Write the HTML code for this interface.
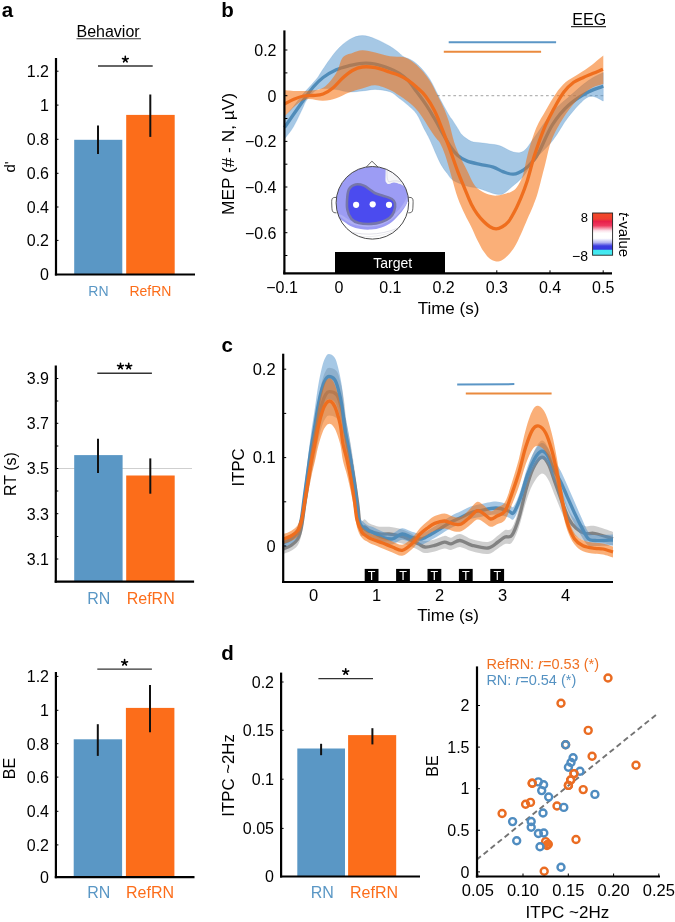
<!DOCTYPE html>
<html><head><meta charset="utf-8"><style>html,body{margin:0;padding:0;background:#fff;width:675px;height:922px;overflow:hidden;position:relative}</style></head><body>
<svg width="675" height="922" viewBox="0 0 675 922" style="position:absolute;left:0;top:0;will-change:transform;font-family:'Liberation Sans', sans-serif">
<rect width="675" height="922" fill="#fff"/>
<text x="1.7" y="17.4" font-size="20.5" text-anchor="start" fill="#000" font-weight="bold" >a</text>
<text x="221.2" y="17.4" font-size="20.5" text-anchor="start" fill="#000" font-weight="bold" >b</text>
<text x="221.6" y="351.6" font-size="20.5" text-anchor="start" fill="#000" font-weight="bold" >c</text>
<text x="221.2" y="659.6" font-size="20.5" text-anchor="start" fill="#000" font-weight="bold" >d</text>
<text x="76.5" y="36.7" font-size="16" text-anchor="start" fill="#000" font-weight="normal" >Behavior</text>
<line x1="76.5" y1="38.8" x2="141" y2="38.8" stroke="#333" stroke-width="1.1" />
<text x="572.3" y="24.8" font-size="16" text-anchor="start" fill="#000" font-weight="normal" >EEG</text>
<line x1="571" y1="26.6" x2="606" y2="26.6" stroke="#333" stroke-width="1.1" />
<rect x="74.2" y="139.8" width="48.1" height="134.7" fill="#5a97c5"/>
<rect x="126.2" y="114.9" width="48.5" height="159.6" fill="#fc6d1a"/>
<line x1="98" y1="125.5" x2="98" y2="154" stroke="#111" stroke-width="2" />
<line x1="150.3" y1="94.5" x2="150.3" y2="136.9" stroke="#111" stroke-width="2" />
<line x1="56" y1="58" x2="56" y2="275.5" stroke="#000" stroke-width="2.2" />
<line x1="54.9" y1="274.5" x2="195" y2="274.5" stroke="#000" stroke-width="2.2" />
<line x1="56" y1="71.2" x2="58.5" y2="71.2" stroke="#000" stroke-width="1" />
<text x="49" y="77" font-size="16" text-anchor="end" fill="#000" font-weight="normal" >1.2</text>
<line x1="56" y1="105.1" x2="58.5" y2="105.1" stroke="#000" stroke-width="1" />
<text x="49" y="110.9" font-size="16" text-anchor="end" fill="#000" font-weight="normal" >1</text>
<line x1="56" y1="139.3" x2="58.5" y2="139.3" stroke="#000" stroke-width="1" />
<text x="49" y="145.1" font-size="16" text-anchor="end" fill="#000" font-weight="normal" >0.8</text>
<line x1="56" y1="173.3" x2="58.5" y2="173.3" stroke="#000" stroke-width="1" />
<text x="49" y="179.1" font-size="16" text-anchor="end" fill="#000" font-weight="normal" >0.6</text>
<line x1="56" y1="207" x2="58.5" y2="207" stroke="#000" stroke-width="1" />
<text x="49" y="212.8" font-size="16" text-anchor="end" fill="#000" font-weight="normal" >0.4</text>
<line x1="56" y1="240.4" x2="58.5" y2="240.4" stroke="#000" stroke-width="1" />
<text x="49" y="246.2" font-size="16" text-anchor="end" fill="#000" font-weight="normal" >0.2</text>
<line x1="56" y1="274.5" x2="58.5" y2="274.5" stroke="#000" stroke-width="1" />
<text x="49" y="280.3" font-size="16" text-anchor="end" fill="#000" font-weight="normal" >0</text>
<line x1="98" y1="66" x2="152.7" y2="66" stroke="#333" stroke-width="1.4" />
<path d="M125.3,59.4 L125.3,56.4 M125.3,59.4 L128.2,58.5 M125.3,59.4 L127.1,61.8 M125.3,59.4 L123.6,61.8 M125.3,59.4 L122.5,58.5" stroke="#000" stroke-width="1.6" stroke-linecap="round" fill="none"/>
<text x="88.3" y="295.6" font-size="14" text-anchor="start" fill="#5a97c5" font-weight="normal" >RN</text>
<text x="129.4" y="295.6" font-size="14" text-anchor="start" fill="#fc6d1a" font-weight="normal" >RefRN</text>
<text x="0" y="0" font-size="15" text-anchor="middle" dominant-baseline="central" fill="#000" transform="translate(9,167) rotate(-90)" >d'</text>
<line x1="55.8" y1="468.5" x2="192" y2="468.5" stroke="#cfcfcf" stroke-width="1" />
<rect x="74.2" y="455.1" width="48.4" height="126.6" fill="#5a97c5"/>
<rect x="126.2" y="475.5" width="48.5" height="106.2" fill="#fc6d1a"/>
<line x1="98" y1="438.8" x2="98" y2="473" stroke="#111" stroke-width="2" />
<line x1="150.3" y1="458.4" x2="150.3" y2="493.7" stroke="#111" stroke-width="2" />
<line x1="55.8" y1="365.5" x2="55.8" y2="582.7" stroke="#000" stroke-width="2.2" />
<line x1="54.7" y1="581.7" x2="194.1" y2="581.7" stroke="#000" stroke-width="2.2" />
<line x1="55.8" y1="378.5" x2="58.3" y2="378.5" stroke="#000" stroke-width="1" />
<text x="49" y="384.3" font-size="16" text-anchor="end" fill="#000" font-weight="normal" >3.9</text>
<line x1="55.8" y1="423.3" x2="58.3" y2="423.3" stroke="#000" stroke-width="1" />
<text x="49" y="429.1" font-size="16" text-anchor="end" fill="#000" font-weight="normal" >3.7</text>
<line x1="55.8" y1="468.5" x2="58.3" y2="468.5" stroke="#000" stroke-width="1" />
<text x="49" y="474.3" font-size="16" text-anchor="end" fill="#000" font-weight="normal" >3.5</text>
<line x1="55.8" y1="513.7" x2="58.3" y2="513.7" stroke="#000" stroke-width="1" />
<text x="49" y="519.5" font-size="16" text-anchor="end" fill="#000" font-weight="normal" >3.3</text>
<line x1="55.8" y1="559" x2="58.3" y2="559" stroke="#000" stroke-width="1" />
<text x="49" y="564.8" font-size="16" text-anchor="end" fill="#000" font-weight="normal" >3.1</text>
<line x1="55.8" y1="401" x2="58.3" y2="401" stroke="#000" stroke-width="1" />
<line x1="55.8" y1="446" x2="58.3" y2="446" stroke="#000" stroke-width="1" />
<line x1="55.8" y1="491" x2="58.3" y2="491" stroke="#000" stroke-width="1" />
<line x1="55.8" y1="536.5" x2="58.3" y2="536.5" stroke="#000" stroke-width="1" />
<line x1="97.3" y1="373.3" x2="151.9" y2="373.3" stroke="#333" stroke-width="1.4" />
<path d="M120.5,366.3 L120.5,363.3 M120.5,366.3 L123.4,365.4 M120.5,366.3 L122.3,368.7 M120.5,366.3 L118.7,368.7 M120.5,366.3 L117.6,365.4" stroke="#000" stroke-width="1.6" stroke-linecap="round" fill="none"/>
<path d="M128.7,366.3 L128.7,363.3 M128.7,366.3 L131.6,365.4 M128.7,366.3 L130.5,368.7 M128.7,366.3 L126.9,368.7 M128.7,366.3 L125.8,365.4" stroke="#000" stroke-width="1.6" stroke-linecap="round" fill="none"/>
<text x="87.3" y="603.6" font-size="16" text-anchor="start" fill="#5a97c5" font-weight="normal" >RN</text>
<text x="126.7" y="603.6" font-size="16" text-anchor="start" fill="#fc6d1a" font-weight="normal" >RefRN</text>
<text x="0" y="0" font-size="16" text-anchor="middle" dominant-baseline="central" fill="#000" transform="translate(10,474) rotate(-90)" >RT (s)</text>
<rect x="73.7" y="739.3" width="48.4" height="137.9" fill="#5a97c5"/>
<rect x="125.9" y="707.9" width="48.5" height="169.3" fill="#fc6d1a"/>
<line x1="97.8" y1="724.2" x2="97.8" y2="755.9" stroke="#111" stroke-width="2" />
<line x1="150" y1="685" x2="150" y2="732.3" stroke="#111" stroke-width="2" />
<line x1="55.9" y1="672" x2="55.9" y2="878.2" stroke="#000" stroke-width="2.2" />
<line x1="54.8" y1="877.2" x2="194.5" y2="877.2" stroke="#000" stroke-width="2.2" />
<line x1="55.9" y1="676.4" x2="58.4" y2="676.4" stroke="#000" stroke-width="1" />
<text x="49" y="682.2" font-size="16" text-anchor="end" fill="#000" font-weight="normal" >1.2</text>
<line x1="55.9" y1="710.3" x2="58.4" y2="710.3" stroke="#000" stroke-width="1" />
<text x="49" y="716.1" font-size="16" text-anchor="end" fill="#000" font-weight="normal" >1</text>
<line x1="55.9" y1="743.7" x2="58.4" y2="743.7" stroke="#000" stroke-width="1" />
<text x="49" y="749.5" font-size="16" text-anchor="end" fill="#000" font-weight="normal" >0.8</text>
<line x1="55.9" y1="777.1" x2="58.4" y2="777.1" stroke="#000" stroke-width="1" />
<text x="49" y="782.9" font-size="16" text-anchor="end" fill="#000" font-weight="normal" >0.6</text>
<line x1="55.9" y1="811.3" x2="58.4" y2="811.3" stroke="#000" stroke-width="1" />
<text x="49" y="817.1" font-size="16" text-anchor="end" fill="#000" font-weight="normal" >0.4</text>
<line x1="55.9" y1="844.9" x2="58.4" y2="844.9" stroke="#000" stroke-width="1" />
<text x="49" y="850.7" font-size="16" text-anchor="end" fill="#000" font-weight="normal" >0.2</text>
<line x1="55.9" y1="877.3" x2="58.4" y2="877.3" stroke="#000" stroke-width="1" />
<text x="49" y="883.1" font-size="16" text-anchor="end" fill="#000" font-weight="normal" >0</text>
<line x1="97.3" y1="669.1" x2="151.9" y2="669.1" stroke="#333" stroke-width="1.4" />
<path d="M124.6,662.6 L124.6,659.6 M124.6,662.6 L127.5,661.7 M124.6,662.6 L126.4,665 M124.6,662.6 L122.8,665 M124.6,662.6 L121.7,661.7" stroke="#000" stroke-width="1.6" stroke-linecap="round" fill="none"/>
<text x="87.3" y="897.7" font-size="16" text-anchor="start" fill="#5a97c5" font-weight="normal" >RN</text>
<text x="126" y="897.7" font-size="16" text-anchor="start" fill="#fc6d1a" font-weight="normal" >RefRN</text>
<text x="0" y="0" font-size="16" text-anchor="middle" dominant-baseline="central" fill="#000" transform="translate(9,768.5) rotate(-90)" >BE</text>
<rect x="297.3" y="748.5" width="47.7" height="128" fill="#5a97c5"/>
<rect x="348.1" y="735.1" width="48.1" height="141.4" fill="#fc6d1a"/>
<line x1="321.1" y1="743.8" x2="321.1" y2="755.2" stroke="#111" stroke-width="2" />
<line x1="372.4" y1="728.2" x2="372.4" y2="744.4" stroke="#111" stroke-width="2" />
<line x1="281.1" y1="672.6" x2="281.1" y2="877.5" stroke="#000" stroke-width="2.2" />
<line x1="280" y1="876.5" x2="420" y2="876.5" stroke="#000" stroke-width="2.2" />
<line x1="281.1" y1="682" x2="283.6" y2="682" stroke="#000" stroke-width="1" />
<text x="274" y="687.8" font-size="16" text-anchor="end" fill="#000" font-weight="normal" >0.2</text>
<line x1="281.1" y1="730.3" x2="283.6" y2="730.3" stroke="#000" stroke-width="1" />
<text x="274" y="736.1" font-size="16" text-anchor="end" fill="#000" font-weight="normal" >0.15</text>
<line x1="281.1" y1="779.2" x2="283.6" y2="779.2" stroke="#000" stroke-width="1" />
<text x="274" y="785" font-size="16" text-anchor="end" fill="#000" font-weight="normal" >0.1</text>
<line x1="281.1" y1="828.4" x2="283.6" y2="828.4" stroke="#000" stroke-width="1" />
<text x="274" y="834.2" font-size="16" text-anchor="end" fill="#000" font-weight="normal" >0.05</text>
<line x1="281.1" y1="876.5" x2="283.6" y2="876.5" stroke="#000" stroke-width="1" />
<text x="274" y="882.3" font-size="16" text-anchor="end" fill="#000" font-weight="normal" >0</text>
<line x1="318.4" y1="678.6" x2="373" y2="678.6" stroke="#333" stroke-width="1.4" />
<path d="M345.7,671.8 L345.7,668.8 M345.7,671.8 L348.6,670.9 M345.7,671.8 L347.5,674.2 M345.7,671.8 L343.9,674.2 M345.7,671.8 L342.8,670.9" stroke="#000" stroke-width="1.6" stroke-linecap="round" fill="none"/>
<text x="310.8" y="897.9" font-size="16" text-anchor="start" fill="#5a97c5" font-weight="normal" >RN</text>
<text x="350" y="897.9" font-size="16" text-anchor="start" fill="#fc6d1a" font-weight="normal" >RefRN</text>
<text x="0" y="0" font-size="16.8" text-anchor="middle" dominant-baseline="central" fill="#000" transform="translate(228.3,775.4) rotate(-90)" >ITPC ~2Hz</text>
<line x1="437" y1="95.7" x2="603.2" y2="95.7" stroke="#b4b4b4" stroke-width="1.3" stroke-dasharray="2.7,2.75"/>
<path d="M284.5,116.5 C286,114.9 290.4,110.3 293.3,106.7 C296.2,103.1 299.5,98.4 302.2,95.1 C304.9,91.8 306.8,89.9 309.3,87.1 C311.8,84.2 315,81 317.3,78 C319.6,75 320,73.5 323.1,69 C326.2,64.5 331.9,55.9 336.2,51 C340.5,46.1 344.9,42.3 349.2,39.7 C353.5,37.1 357.8,35.7 362.2,35.6 C366.6,35.5 370.7,37.1 375.3,38.9 C379.9,40.7 386.1,44 390,46.3 C393.9,48.6 396.7,51 398.9,52.7 C401.1,54.4 401.1,55.2 403.3,56.5 C405.5,57.8 409.2,58.6 412.2,60.5 C415.2,62.4 418.1,64.8 421.1,68 C424.1,71.2 427,74.7 430,79.5 C433,84.3 435.8,90.9 438.9,96.8 C442,102.7 446.4,110.8 448.7,114.7 C450.9,118.6 450.8,117.5 452.4,120 C454,122.5 456.8,126.9 458.4,129.4 C460,131.9 460.1,133.1 462.2,135.1 C464.3,137.1 468.1,140 471.1,141.3 C474.1,142.6 476.9,142.2 480,142.7 C483.1,143.1 486.5,143.5 489.8,144 C493.1,144.5 496.1,144.5 500,145.8 C503.9,147.1 509.3,151.1 513.3,152 C517.2,152.9 520.2,153.4 523.7,151 C527.2,148.6 529.3,144.3 534.1,137.8 C538.9,131.3 546.7,118.8 552.5,112 C558.3,105.2 562.8,102.2 568.8,97 C574.8,91.8 582.5,84.7 588.3,80.6 C594,76.5 600.8,73.8 603.3,72.5 L603.3,101 C600.8,100.3 594,94.3 588.3,96.9 C582.5,99.5 574.8,109.1 568.8,116.4 C562.8,123.7 558.3,133.5 552.5,140.8 C546.7,148.1 538.9,154.5 534.1,160.3 C529.3,166.2 527.4,171.5 523.7,175.9 C520,180.3 514.9,184.2 511.7,187 C508.5,189.8 506.3,191.8 504.4,193 C502.4,194.2 501.9,194.4 500,194.5 C498.1,194.6 495.6,194.1 493.3,193.5 C491,192.9 488.9,191.9 486.2,191 C483.5,190.1 480.6,188.8 477.3,188 C474.1,187.2 470.7,187.3 466.7,186 C462.7,184.7 456.6,182.5 453.3,180.4 C450,178.3 449.3,176.2 447.1,173.3 C444.9,170.4 442.9,168.2 440,162.7 C437.1,157.1 432.7,145.8 430,140 C427.3,134.2 426,132.5 423.8,128.2 C421.6,123.9 419.4,117.8 416.7,114 C414,110.2 410.8,107.8 407.8,105.1 C404.8,102.4 401.9,100.2 398.9,98 C395.9,95.8 393.9,93.2 390,91.8 C386.1,90.4 379.9,89.5 375.3,89.4 C370.7,89.3 366.6,90.6 362.2,91 C357.8,91.4 353.5,92.2 349.2,92 C344.9,91.8 340.5,90.1 336.2,89.5 C331.9,88.9 326.5,88.3 323.1,88.5 C319.7,88.7 318.3,88.6 315.6,90.5 C312.9,92.4 308.9,96.9 306.7,100 C304.5,103.1 304.4,104.8 302.2,109.3 C300,113.8 296.2,122.1 293.3,127.1 C290.4,132 286,137 284.5,139 Z" fill="rgb(78,145,204)" fill-opacity="0.5" stroke="rgb(78,145,204)" stroke-opacity="0.25" stroke-width="0.8"/>
<path d="M284.5,127.5 C286.1,125.2 290.6,118.6 293.8,114 C297,109.4 300.4,104.5 303.6,100 C306.9,95.5 310.1,90.8 313.3,87 C316.6,83.2 319.3,80.4 323.1,77.5 C326.9,74.6 331.9,71.8 336.2,69.8 C340.5,67.8 344.9,66.8 349.2,65.7 C353.5,64.6 357.8,63.6 362.2,63.3 C366.6,63 370.7,63.2 375.3,64.1 C379.9,65 386.1,67.2 390,68.7 C393.9,70.2 395.9,71.2 398.9,73.1 C401.9,75 404.8,77.1 407.8,80.2 C410.8,83.3 413.7,87.8 416.7,91.8 C419.7,95.8 422.7,99.8 425.6,104.2 C428.6,108.6 432,114.4 434.4,118.4 C436.8,122.4 437.2,123.6 439.8,128.2 C442.4,132.8 447,141.4 450,146 C453,150.6 455,153.1 457.8,155.6 C460.6,158.1 463,159.4 466.7,160.9 C470.4,162.4 475.6,163.4 480,164.4 C484.4,165.4 489.5,165.9 493.3,167.1 C497.1,168.3 499.6,170.4 502.9,171.6 C506.2,172.8 509.8,174.5 513.3,174.2 C516.8,173.9 520.2,172.3 523.7,169.9 C527.2,167.5 531.3,163.3 534,160 C536.7,156.7 536.9,155.9 540,150 C543.1,144.1 547.7,132.1 552.5,124.6 C557.3,117.1 562.8,110.4 568.8,105 C574.8,99.6 582.5,95.1 588.3,92 C594,88.9 600.8,87.2 603.3,86.3" fill="none" stroke="#508cb9" stroke-width="3.3" stroke-linecap="butt"/>
<path d="M284.5,90.2 C287.7,90.3 297.2,91.4 303.6,91 C310,90.6 317.7,90.7 323.1,87.7 C328.5,84.7 332.9,78 336.2,73 C339.5,68 340,60.9 342.7,57.6 C345.4,54.3 349.1,54.2 352.4,53 C355.6,51.8 358.4,50.4 362.2,50.3 C366,50.2 370.7,51.5 375.3,52.5 C379.9,53.5 385.3,55.4 390,56.2 C394.7,57 399.6,56.2 403.3,57.1 C407,58 409.2,59.5 412.2,61.6 C415.2,63.7 418.1,66.3 421.1,69.6 C424.1,72.8 427.5,77.2 430,81.1 C432.5,84.9 434,88.4 436.2,92.7 C438.4,97 441.2,102.2 443.3,106.9 C445.4,111.6 446.9,115.2 448.7,121.1 C450.5,127 452.2,136.2 454.2,142.2 C456.1,148.2 458.3,152.7 460.4,157.3 C462.5,161.9 464.5,165.4 466.7,169.8 C468.9,174.2 471.6,180.6 473.8,184 C476,187.4 477.5,188.4 480,190.2 C482.5,191.9 486.1,193.6 488.9,194.5 C491.7,195.4 494,195.8 496.9,195.6 C499.8,195.4 503.8,194.2 506.3,193.5 C508.8,192.8 509.9,192.6 511.7,191.5 C513.5,190.4 515.1,189.8 517,187 C518.9,184.2 521.2,180.3 523,175 C524.8,169.7 525.3,162.9 527.5,155 C529.7,147.1 533.2,135.3 536.3,127.8 C539.4,120.3 542.8,115.6 546,109.9 C549.2,104.2 552.5,98.3 555.8,93.7 C559,89.1 562,85.4 565.5,82.3 C569,79.2 573.1,77.5 576.9,75 C580.7,72.5 583.9,70.9 588.3,67.6 C592.7,64.3 600.8,57.4 603.3,55.4 L603.3,83.9 C600.8,84.9 594,85.7 588.3,90 C582.5,94.3 574.8,102 568.8,110 C562.8,118 556.5,128.8 552.5,138 C548.5,147.2 547.4,156 545,165 C542.6,174 539.9,185.3 538,192 C536.1,198.7 535.3,200.3 533.5,204.9 C531.7,209.5 529.3,214.6 527.2,219.4 C525.1,224.2 523.1,229.4 521,233.9 C518.9,238.4 516.9,242.9 514.8,246.4 C512.7,249.9 510.7,252.4 508.6,254.7 C506.5,256.9 504.4,258.8 502.3,259.9 C500.2,261 498.2,261.6 496.1,261.4 C494,261.2 492,260.4 489.9,258.8 C487.8,257.2 485.8,254.7 483.7,251.6 C481.6,248.5 479.5,244.3 477.4,240.2 C475.3,236 473.3,231 471.2,226.7 C469.1,222.3 466.9,218.9 464.7,214.1 C462.5,209.3 460,204.2 457.8,198 C455.6,191.8 453.7,184 451.6,176.9 C449.5,169.8 447.2,161.2 445.3,155.6 C443.4,149.9 441.6,145.9 440,143 C438.4,140.1 437.8,140.5 436,138 C434.2,135.5 431.4,131.6 429.1,128 C426.8,124.5 424.4,120.1 422,116.7 C419.6,113.3 417.3,110.3 414.9,107.8 C412.5,105.3 410.5,103.7 407.8,101.6 C405.1,99.5 401.9,97.2 398.9,95.3 C395.9,93.4 393.9,91.7 390,90 C386.1,88.3 379.9,85.5 375.3,85.3 C370.7,85.1 366.6,87.4 362.2,88.6 C357.8,89.8 353.5,91 349.2,92.6 C344.9,94.2 340.5,96.9 336.2,98.3 C331.9,99.7 328.5,100.5 323.1,100.8 C317.7,101.1 310,97.4 303.6,100 C297.2,102.6 287.7,113.6 284.5,116.3 Z" fill="rgb(246,110,10)" fill-opacity="0.55"/>
<path d="M284.5,104 C286.1,103.2 290.6,100.5 293.8,99.2 C297,97.9 300.4,96.6 303.6,96 C306.9,95.4 310.1,95.8 313.3,95.5 C316.6,95.2 319.8,95.2 323.1,94 C326.4,92.8 329.6,90.7 332.9,88 C336.2,85.3 339.4,80.9 342.7,78 C345.9,75.1 349.1,72.3 352.4,70.5 C355.6,68.7 358.4,67.5 362.2,67 C366,66.5 370.7,66.8 375.3,67.7 C379.9,68.6 386.1,70.9 390,72.2 C393.9,73.5 395.9,74 398.9,75.3 C401.9,76.6 404.8,78.2 407.8,80.2 C410.8,82.2 413.7,84.6 416.7,87.3 C419.7,90 422.7,92.3 425.6,96.2 C428.6,100.1 432,105.8 434.4,110.4 C436.8,115 437.6,117.5 440,123.6 C442.4,129.6 445.9,138.7 448.9,146.7 C451.9,154.7 455.1,164.5 457.8,171.6 C460.5,178.7 462.8,183.9 465,189.3 C467.2,194.7 469.1,199.8 471.2,203.9 C473.3,208.1 475.3,211.3 477.4,214.2 C479.5,217.1 481.6,219.4 483.7,221.5 C485.8,223.6 487.8,225.5 489.9,226.7 C492,227.9 494,228.8 496.1,228.8 C498.2,228.8 500.2,227.9 502.3,226.7 C504.4,225.5 506.5,224.1 508.6,221.5 C510.7,218.9 512.7,215.1 514.8,211.1 C516.9,207.1 518.9,202.6 521,197.6 C523.1,192.6 524.9,188.1 527.2,181 C529.5,173.9 531.7,163.9 534.6,155 C537.5,146.1 541.1,135.6 544.4,127.8 C547.6,120 550.9,114.3 554.1,108.3 C557.4,102.3 560.6,96.3 563.9,92 C567.2,87.7 570.5,84.7 573.7,82.3 C577,79.9 580.1,78.9 583.4,77.4 C586.6,75.9 590,74.7 593.2,73.3 C596.5,71.9 601.3,70 602.9,69.3" fill="none" stroke="#ef6e1e" stroke-width="3.3" stroke-linecap="butt"/>
<line x1="448.7" y1="42.3" x2="556.1" y2="42.3" stroke="#5b96c6" stroke-width="2" />
<line x1="443.8" y1="51.8" x2="541.1" y2="51.8" stroke="#ea8a3e" stroke-width="2" />
<line x1="284.4" y1="30.4" x2="284.4" y2="274.3" stroke="#000" stroke-width="2.2" />
<line x1="283.3" y1="273.3" x2="612" y2="273.3" stroke="#000" stroke-width="2.2" />
<line x1="284.4" y1="50" x2="287.4" y2="50" stroke="#000" stroke-width="1" />
<text x="276.5" y="55.8" font-size="16" text-anchor="end" fill="#000" font-weight="normal" >0.2</text>
<line x1="284.4" y1="95.7" x2="287.4" y2="95.7" stroke="#000" stroke-width="1" />
<text x="276.5" y="101.5" font-size="16" text-anchor="end" fill="#000" font-weight="normal" >0</text>
<line x1="284.4" y1="141.4" x2="287.4" y2="141.4" stroke="#000" stroke-width="1" />
<text x="276.5" y="147.2" font-size="16" text-anchor="end" fill="#000" font-weight="normal" >−0.2</text>
<line x1="284.4" y1="187" x2="287.4" y2="187" stroke="#000" stroke-width="1" />
<text x="276.5" y="192.8" font-size="16" text-anchor="end" fill="#000" font-weight="normal" >−0.4</text>
<line x1="284.4" y1="232.7" x2="287.4" y2="232.7" stroke="#000" stroke-width="1" />
<text x="276.5" y="238.5" font-size="16" text-anchor="end" fill="#000" font-weight="normal" >−0.6</text>
<line x1="284.4" y1="72.9" x2="287.4" y2="72.9" stroke="#000" stroke-width="1" />
<line x1="284.4" y1="118.5" x2="287.4" y2="118.5" stroke="#000" stroke-width="1" />
<line x1="284.4" y1="164.2" x2="287.4" y2="164.2" stroke="#000" stroke-width="1" />
<line x1="284.4" y1="209.9" x2="287.4" y2="209.9" stroke="#000" stroke-width="1" />
<line x1="284.4" y1="255.5" x2="287.4" y2="255.5" stroke="#000" stroke-width="1" />
<line x1="284" y1="273.3" x2="284" y2="270.3" stroke="#000" stroke-width="1" />
<text x="282" y="293" font-size="16" text-anchor="middle" fill="#000" font-weight="normal" >−0.1</text>
<line x1="337.2" y1="273.3" x2="337.2" y2="270.3" stroke="#000" stroke-width="1" />
<text x="339" y="293" font-size="16" text-anchor="middle" fill="#000" font-weight="normal" >0</text>
<line x1="390.4" y1="273.3" x2="390.4" y2="270.3" stroke="#000" stroke-width="1" />
<text x="390.4" y="293" font-size="16" text-anchor="middle" fill="#000" font-weight="normal" >0.1</text>
<line x1="443.6" y1="273.3" x2="443.6" y2="270.3" stroke="#000" stroke-width="1" />
<text x="443.6" y="293" font-size="16" text-anchor="middle" fill="#000" font-weight="normal" >0.2</text>
<line x1="496.8" y1="273.3" x2="496.8" y2="270.3" stroke="#000" stroke-width="1" />
<text x="496.8" y="293" font-size="16" text-anchor="middle" fill="#000" font-weight="normal" >0.3</text>
<line x1="550" y1="273.3" x2="550" y2="270.3" stroke="#000" stroke-width="1" />
<text x="550" y="293" font-size="16" text-anchor="middle" fill="#000" font-weight="normal" >0.4</text>
<line x1="603.2" y1="273.3" x2="603.2" y2="270.3" stroke="#000" stroke-width="1" />
<text x="603.2" y="293" font-size="16" text-anchor="middle" fill="#000" font-weight="normal" >0.5</text>
<text x="448.5" y="314.2" font-size="17" text-anchor="middle" fill="#000" font-weight="normal" >Time (s)</text>
<text x="0" y="0" font-size="17.3" text-anchor="middle" dominant-baseline="central" fill="#000" transform="translate(228,154) rotate(-90)" >MEP (# - N, µV)</text>
<rect x="335" y="252" width="110" height="21.3" fill="#000"/>
<text x="392.7" y="268" font-size="14" text-anchor="middle" fill="#fff" font-weight="normal" >Target</text>
<g>
<path d="M365.9,167.5 L371.9,161.2 L378.5,167.5" fill="#fff" stroke="#555" stroke-width="0.9"/>
<path d="M336.5,197.5 C331.5,197 331.5,199 331.8,205 C332,211 332,213 336.5,212.8" fill="#fff" stroke="#555" stroke-width="0.9"/>
<path d="M408.3,197.5 C413.3,197 413.3,199 413,205 C412.8,211 412.8,213 408.3,212.8" fill="#fff" stroke="#555" stroke-width="0.9"/>
<defs><clipPath id="headclip"><circle cx="372.4" cy="202.8" r="36.3"/></clipPath></defs>
<circle cx="372.4" cy="202.8" r="36.3" fill="#fff"/>
<g clip-path="url(#headclip)">
<path d="M330,140 L420,140 L420,190 L412,190 C411.4,191.5 409.6,196.3 408.5,199 C407.4,201.7 406.8,203.9 405.4,206.3 C404,208.7 402.4,211 400.2,213.6 C397.9,216.2 395,219.6 391.9,221.9 C388.8,224.2 385,226.3 381.5,227.6 C378,228.9 374.6,229.3 371.1,229.6 C367.6,229.8 364.1,229.7 360.7,229.1 C357.2,228.5 353.7,227.6 350.4,226 C347.1,224.4 343.9,221.3 341,219.8 C338.1,218.3 334.3,217.5 333,217 L330,217 Z" fill="#9c9cf4"/>
<path d="M333,213 C334.3,213.5 338.1,214.5 341,216 C343.9,217.5 347.1,220.5 350.4,222 C353.7,223.5 357.2,224.4 360.7,225 C364.1,225.6 367.6,225.8 371.1,225.5 C374.6,225.2 378,224.8 381.5,223.5 C385,222.2 388.8,220.2 391.9,218 C395,215.8 397.9,212.5 400.2,210 C402.4,207.5 404,205.3 405.4,203 C406.8,200.7 407.4,198.7 408.5,196 C409.6,193.3 411.4,188.5 412,187" fill="none" stroke="#aeaef4" stroke-width="2.5"/>
<path d="M385,160 L385.6,170 C385.6,176 385.2,180 385.6,181.4 C386.5,183 387.5,184 388.8,184 C391,183.5 392,182.4 394,182.4 C396,182.4 398,183.5 400.2,184 C402,184.8 404,186 405.4,187.6 L414,192 L420,150 L392,150 Z" fill="#f5f5f8"/>
<path d="M387,170 C387,176 387,180 389,182 C392,181 396,180 401,182 C404,183 406,184 408,186" fill="none" stroke="#d0d0dc" stroke-width="0.6"/>
<path d="M343,229 C357,236 380,236 398,228 C404,224 408,219 410,214" fill="none" stroke="#d4d4e0" stroke-width="0.7"/>
<path d="M352,235 C368,239 388,236 404,226" fill="none" stroke="#e0e0e6" stroke-width="0.6"/>
</g>
<path d="M349.3,188.7 C350.7,186.6 353.2,185 355.6,184.5 C358,184 361.5,184.7 363.9,185.6 C366.3,186.5 368.2,188.4 370.1,189.7 C372,191 373.1,192.3 375.3,193.3 C377.6,194.3 380.8,195 383.6,195.9 C386.4,196.8 390,197.8 391.9,199 C393.8,200.2 394.6,201.1 395,203.2 C395.4,205.3 394.9,209.1 394,211.5 C393.1,213.9 391.9,216 389.8,217.7 C387.7,219.4 384.6,220.9 381.5,221.9 C378.4,222.9 374.9,223.7 371.1,223.9 C367.3,224.1 362,223.8 358.7,222.9 C355.4,222.1 353.3,221.1 351.4,218.8 C349.5,216.6 348,213 347.3,209.4 C346.6,205.8 347,200.4 347.3,197 C347.6,193.6 347.9,190.8 349.3,188.7 Z" fill="#4b4bef" stroke="#7676aa" stroke-width="2.6"/>
<circle cx="372.4" cy="202.8" r="36.3" fill="none" stroke="#4a4a4a" stroke-width="1"/>
<circle cx="356.1" cy="204.8" r="3.1" fill="#fff"/>
<circle cx="372.7" cy="204.3" r="3.1" fill="#fff"/>
<circle cx="389" cy="204.8" r="3.1" fill="#fff"/>
</g>
<defs><linearGradient id="cbar" x1="0" y1="0" x2="0" y2="1"><stop offset="0" stop-color="#f24a28"/><stop offset="0.14" stop-color="#f04030"/><stop offset="0.2" stop-color="#e8204a"/><stop offset="0.3" stop-color="#ee3a60"/><stop offset="0.42" stop-color="#fbe2ea"/><stop offset="0.48" stop-color="#ffffff"/><stop offset="0.6" stop-color="#ffffff"/><stop offset="0.7" stop-color="#b4b4f0"/><stop offset="0.78" stop-color="#3c3ce0"/><stop offset="0.86" stop-color="#3838e0"/><stop offset="0.88" stop-color="#40e8f0"/><stop offset="1" stop-color="#48eaf2"/></linearGradient></defs>
<rect x="592.6" y="213" width="20" height="42.2" fill="url(#cbar)" stroke="#222" stroke-width="0.9"/>
<text x="588" y="221.5" font-size="13" text-anchor="end" fill="#000" font-weight="normal" >8</text>
<text x="588" y="261.2" font-size="14" text-anchor="end" fill="#000" font-weight="normal" >−8</text>
<text x="0" y="0" font-size="15" text-anchor="middle" dominant-baseline="central" transform="translate(624.8,234.7) rotate(90)"><tspan font-style="italic">t</tspan>-value</text>
<path d="M283.2,544 C284.4,543.4 288.3,541.9 290.7,540.2 C293.1,538.4 295.6,536.8 297.4,533.4 C299.2,530 300.2,526.3 301.4,519.7 C302.6,513.2 303.6,502.7 304.7,494.2 C305.8,485.7 306.9,477.2 308,468.7 C309.1,460.2 310.3,450.8 311.4,443.1 C312.5,435.5 313.5,430.2 314.7,422.7 C315.9,415.3 317.1,405.5 318.4,398.5 C319.6,391.4 321,385.2 322.2,380.6 C323.4,376 324.5,373.1 325.7,371 C326.9,368.9 327.4,367.8 329.2,367.8 C331,367.8 334.7,368.9 336.5,371 C338.3,373.1 338.8,376 340,380.6 C341.2,385.2 342.7,391.4 343.8,398.5 C344.9,405.5 345.4,415.3 346.5,422.7 C347.6,430.2 349.2,435.5 350.5,443.1 C351.8,450.8 353.3,460.2 354.5,468.7 C355.7,477.2 356.8,485.7 357.8,494.2 C358.8,502.7 359.3,515.6 360.5,519.7 C361.7,523.9 363.5,518.7 365,519.4 C366.5,520 367.2,522.3 369.6,523.5 C372,524.7 376.1,526.2 379.3,526.7 C382.6,527.2 385.8,526.4 389.1,526.7 C392.4,527 395.6,527.6 398.9,528.5 C402.2,529.4 405.4,530.6 408.7,532.2 C411.9,533.7 415.7,536.2 418.4,537.7 C421.1,539.1 422.3,540.7 425,541 C427.7,541.3 431.4,540.3 434.7,539.4 C437.9,538.5 441.8,536.2 444.5,535.9 C447.2,535.6 448.4,538 451,537.7 C453.6,537.3 456.5,533.7 460,534 C463.5,534.2 467.3,538 472,539.3 C476.7,540.6 483.7,542.6 488,542 C492.3,541.4 495.2,537.6 498,535.6 C500.8,533.6 502.7,531.3 505,530 C507.3,528.8 509.6,531.7 511.9,528.1 C514.2,524.6 516.6,517.2 518.9,508.8 C521.2,500.3 523.5,486.7 525.8,477.6 C528.1,468.6 530.1,460.5 532.7,454.3 C535.3,448.2 538.8,441.6 541.4,440.7 C544,439.7 546.1,443.7 548.4,448.5 C550.7,453.4 553,462.7 555.3,469.8 C557.6,476.9 559.9,484.4 562.2,491.2 C564.5,498 566.9,505.7 569.2,510.6 C571.5,515.4 573.5,517.7 576.1,520.3 C578.7,522.9 581.6,525.1 584.8,526.1 C587.9,527.1 590.3,525.1 595,526.1 C599.7,527.1 610,531 613,531.9 L613,545.5 C610,544.7 599.7,541.6 595,540.9 C590.3,540.1 587.9,541.6 584.8,540.9 C581.6,540.1 578.7,538.3 576.1,536.3 C573.5,534.3 571.5,532.5 569.2,528.6 C566.9,524.8 564.5,518.8 562.2,513.4 C559.9,508.1 557.6,502.2 555.3,496.6 C553,491 550.7,483.7 548.4,479.9 C546.1,476.1 544,473 541.4,473.7 C538.8,474.5 535.3,479.6 532.7,484.5 C530.1,489.3 528.1,495.6 525.8,502.8 C523.5,509.9 521.2,520.6 518.9,527.2 C516.6,533.9 514.2,539.7 511.9,542.5 C509.6,545.3 507.3,543 505,544 C502.7,544.9 500.8,546.7 498,548.4 C495.2,550 492.3,553.5 488,554 C483.7,554.5 476.7,552.5 472,551.3 C467.3,550.1 463.5,547.3 460,547 C456.5,546.8 453.6,549.7 451,549.9 C448.4,550.2 447.2,548.3 444.5,548.5 C441.8,548.8 437.9,550.7 434.7,551.4 C431.4,552.1 427.7,553.2 425,553 C422.3,552.8 421.1,551.2 418.4,549.9 C415.7,548.7 411.9,546.8 408.7,545.6 C405.4,544.4 402.2,543.4 398.9,542.7 C395.6,542 392.4,541.6 389.1,541.3 C385.8,541.1 382.6,541.9 379.3,541.3 C376.1,540.7 372,539 369.6,537.9 C367.2,536.8 366.5,535.1 365,534.6 C363.5,534.1 361.7,538.2 360.5,534.9 C359.3,531.6 358.8,521.6 357.8,514.9 C356.8,508.2 355.7,501.5 354.5,494.8 C353.3,488.1 351.8,480.8 350.5,474.8 C349.2,468.7 347.6,464.6 346.5,458.7 C345.4,452.9 344.9,445.2 343.8,439.6 C342.7,434.1 341.2,429.2 340,425.6 C338.8,422 338.3,419.8 336.5,418.1 C334.7,416.4 331,415.6 329.2,415.6 C327.4,415.6 326.9,416.4 325.7,418.1 C324.5,419.8 323.4,422 322.2,425.6 C321,429.2 319.6,434.1 318.4,439.6 C317.1,445.2 315.9,452.9 314.7,458.7 C313.5,464.6 312.5,468.7 311.4,474.8 C310.3,480.8 309.1,488.1 308,494.8 C306.9,501.5 305.8,508.2 304.7,514.9 C303.6,521.6 302.6,529.8 301.4,534.9 C300.2,540.1 299.2,543 297.4,545.7 C295.6,548.3 293.1,549.6 290.7,551 C288.3,552.4 284.4,553.5 283.2,554 Z" fill="rgb(160,160,160)" fill-opacity="0.5"/>
<path d="M283.2,549 C284.4,548.4 288.3,547.2 290.7,545.6 C293.1,544 295.6,542.6 297.4,539.5 C299.2,536.5 300.2,533.2 301.4,527.3 C302.6,521.5 303.6,512.1 304.7,504.5 C305.8,496.9 306.9,489.3 308,481.7 C309.1,474.1 310.3,465.8 311.4,459 C312.5,452.1 313.5,447.4 314.7,440.7 C315.9,434.1 317.1,425.3 318.4,419.1 C319.6,412.8 321,407.2 322.2,403.1 C323.4,399 324.5,396.4 325.7,394.5 C326.9,392.6 327.4,391.7 329.2,391.7 C331,391.7 334.7,392.6 336.5,394.5 C338.3,396.4 338.8,399 340,403.1 C341.2,407.2 342.7,412.8 343.8,419.1 C344.9,425.3 345.4,434.1 346.5,440.7 C347.6,447.4 349.2,452.1 350.5,459 C351.8,465.8 353.3,474.1 354.5,481.7 C355.7,489.3 356.8,496.9 357.8,504.5 C358.8,512.1 359.3,523.6 360.5,527.3 C361.7,531.1 363.5,526.4 365,527 C366.5,527.6 367.2,529.5 369.6,530.7 C372,531.9 376.1,533.5 379.3,534 C382.6,534.5 385.8,533.7 389.1,534 C392.4,534.3 395.6,534.8 398.9,535.6 C402.2,536.4 405.4,537.5 408.7,538.9 C411.9,540.3 415.7,542.4 418.4,543.8 C421.1,545.1 422.3,546.7 425,547 C427.7,547.3 431.4,546.2 434.7,545.4 C437.9,544.6 441.8,542.5 444.5,542.2 C447.2,541.9 448.4,544.1 451,543.8 C453.6,543.5 456.5,540.2 460,540.5 C463.5,540.8 467.3,544 472,545.3 C476.7,546.5 483.7,548.5 488,548 C492.3,547.5 495.2,543.8 498,542 C500.8,540.2 502.7,538.1 505,537 C507.3,535.9 509.6,538.5 511.9,535.3 C514.2,532.1 516.6,525.5 518.9,518 C521.2,510.5 523.5,498.3 525.8,490.2 C528.1,482.1 530.1,474.9 532.7,469.4 C535.3,463.9 538.8,458.1 541.4,457.2 C544,456.3 546.1,459.9 548.4,464.2 C550.7,468.5 553,476.8 555.3,483.2 C557.6,489.6 559.9,496.2 562.2,502.3 C564.5,508.4 566.9,515.3 569.2,519.6 C571.5,523.9 573.5,526 576.1,528.3 C578.7,530.6 581.6,532.6 584.8,533.5 C587.9,534.4 590.3,532.6 595,533.5 C599.7,534.4 610,537.8 613,538.7" fill="none" stroke="#828282" stroke-width="3.3" stroke-linejoin="round"/>
<path d="M282.9,538.5 C284.1,537.9 288,536.6 290.4,534.8 C292.8,533 295.3,531.3 297.1,527.7 C298.9,524.1 299.9,520.2 301.1,513.4 C302.3,506.5 303.3,495.5 304.4,486.6 C305.5,477.7 306.6,468.7 307.7,459.8 C308.8,450.9 310,441.1 311.1,433 C312.2,425 313.2,419.4 314.4,411.6 C315.6,403.8 316.8,393.5 318.1,386.2 C319.3,378.8 320.7,372.2 321.9,367.4 C323.1,362.6 324.2,359.6 325.4,357.4 C326.6,355.1 327.4,354 328.9,354 C330.4,354 333.1,355.1 334.6,357.4 C336.1,359.6 336.9,362.6 338.1,367.4 C339.3,372.2 340.8,378.8 341.9,386.2 C343,393.5 343.5,403.8 344.6,411.6 C345.7,419.4 347.3,425 348.6,433 C349.9,441.1 351.4,450.9 352.6,459.8 C353.8,468.7 354.9,477.7 355.9,486.6 C356.9,495.5 357.4,507.5 358.6,513.4 C359.8,519.2 361.4,519.6 363,521.6 C364.6,523.6 366.4,524.6 368,525.5 C369.6,526.4 370.4,526 372.8,527.1 C375.2,528.1 379.3,530.7 382.6,531.7 C385.9,532.8 389.1,533.9 392.4,533.4 C395.7,532.8 398.9,528.6 402.2,528.3 C405.4,528 408.6,530.9 411.9,531.7 C415.1,532.6 418.4,533.9 421.7,533.4 C425,532.8 428.2,530.2 431.5,528.3 C434.8,526.4 438.1,524.2 441.3,522.1 C444.6,520.1 447.7,517.8 451,516 C454.3,514.1 458.1,512.7 461.3,511.1 C464.5,509.6 466.9,507.8 470,506.7 C473.1,505.6 475.7,505.2 480,504.3 C484.3,503.5 491.2,501.5 496,501.5 C500.8,501.6 505.6,503.8 508.5,504.6 C511.4,505.4 511.7,508.8 513.7,506.4 C515.7,504 518.3,496.9 520.6,490.3 C522.9,483.8 525.2,473.7 527.5,467.1 C529.8,460.6 532.2,455.1 534.5,451.1 C536.8,447.1 539.2,443.6 541.4,443 C543.6,442.4 545.5,444.7 547.5,447.5 C549.5,450.3 551.4,456 553.6,459.8 C555.8,463.7 558.2,466.1 560.5,470.4 C562.8,474.6 565.1,480.2 567.4,485.4 C569.7,490.6 572.1,496.3 574.4,501.6 C576.7,506.9 579,512.2 581.3,517.2 C583.6,522.3 585.9,528.9 588.2,531.8 C590.5,534.8 590.9,534.6 595,535 C599.1,535.4 610,534.6 613,534.5 L613,545.5 C610,545.6 599.1,546 595,546 C590.9,546 590.5,547.3 588.2,545.6 C585.9,543.9 583.6,539.6 581.3,536 C579,532.3 576.7,528.3 574.4,523.8 C572.1,519.2 569.7,514 567.4,508.8 C565.1,503.6 562.8,497.6 560.5,492.6 C558.2,487.7 555.8,483.8 553.6,479 C551.4,474.1 549.5,466.8 547.5,463.5 C545.5,460.3 543.6,458.8 541.4,459.4 C539.2,459.9 536.8,463.1 534.5,466.9 C532.2,470.7 529.8,475.9 527.5,482.1 C525.2,488.2 522.9,497.7 520.6,503.9 C518.3,510 515.7,516.8 513.7,519 C511.7,521.3 511.4,518.1 508.5,517.4 C505.6,516.6 500.8,514.5 496,514.5 C491.2,514.4 484.3,516.3 480,517.1 C475.7,517.9 473.1,518.2 470,519.3 C466.9,520.4 464.5,522 461.3,523.5 C458.1,524.9 454.3,526.3 451,528 C447.7,529.8 444.6,531.9 441.3,533.9 C438.1,535.8 434.8,537.9 431.5,539.7 C428.2,541.4 425,543.9 421.7,544.4 C418.4,545 415.1,543.7 411.9,542.9 C408.6,542.1 405.4,539.4 402.2,539.7 C398.9,539.9 395.7,543.9 392.4,544.4 C389.1,545 385.9,544 382.6,542.9 C379.3,541.8 375.2,538.8 372.8,537.7 C370.4,536.7 369.6,537.2 368,536.5 C366.4,535.8 364.6,535 363,533.4 C361.4,531.8 359.8,531.4 358.6,526.8 C357.4,522.1 356.9,512.5 355.9,505.3 C354.9,498.1 353.8,491 352.6,483.8 C351.4,476.7 349.9,468.8 348.6,462.3 C347.3,455.9 345.7,451.4 344.6,445.2 C343.5,438.9 343,430.7 341.9,424.8 C340.8,418.9 339.3,413.6 338.1,409.7 C336.9,405.9 336.1,403.5 334.6,401.7 C333.1,399.9 330.4,399 328.9,399 C327.4,399 326.6,399.9 325.4,401.7 C324.2,403.5 323.1,405.9 321.9,409.7 C320.7,413.6 319.3,418.9 318.1,424.8 C316.8,430.7 315.6,438.9 314.4,445.2 C313.2,451.4 312.2,455.9 311.1,462.3 C310,468.8 308.8,476.7 307.7,483.8 C306.6,491 305.5,498.1 304.4,505.3 C303.3,512.5 302.3,521.3 301.1,526.8 C299.9,532.3 298.9,535.4 297.1,538.3 C295.3,541.1 292.8,542.4 290.4,543.9 C288,545.5 284.1,546.9 282.9,547.5 Z" fill="rgb(78,145,204)" fill-opacity="0.5"/>
<path d="M282.9,543 C284.1,542.4 288,541 290.4,539.4 C292.8,537.7 295.3,536.2 297.1,533 C298.9,529.8 299.9,526.2 301.1,520.1 C302.3,513.9 303.3,504 304.4,495.9 C305.5,487.9 306.6,479.9 307.7,471.8 C308.8,463.8 310,454.9 311.1,447.7 C312.2,440.4 313.2,435.4 314.4,428.4 C315.6,421.3 316.8,412.1 318.1,405.5 C319.3,398.8 320.7,392.9 321.9,388.6 C323.1,384.2 324.2,381.5 325.4,379.5 C326.6,377.5 327.4,376.5 328.9,376.5 C330.4,376.5 333.1,377.5 334.6,379.5 C336.1,381.5 336.9,384.2 338.1,388.6 C339.3,392.9 340.8,398.8 341.9,405.5 C343,412.1 343.5,421.3 344.6,428.4 C345.7,435.4 347.3,440.4 348.6,447.7 C349.9,454.9 351.4,463.8 352.6,471.8 C353.8,479.9 354.9,487.9 355.9,495.9 C356.9,504 357.4,514.8 358.6,520.1 C359.8,525.3 361.4,525.7 363,527.5 C364.6,529.3 366.4,530.2 368,531 C369.6,531.8 370.4,531.4 372.8,532.4 C375.2,533.4 379.3,536.2 382.6,537.3 C385.9,538.4 389.1,539.4 392.4,538.9 C395.7,538.4 398.9,534.3 402.2,534 C405.4,533.7 408.6,536.5 411.9,537.3 C415.1,538.1 418.4,539.4 421.7,538.9 C425,538.4 428.2,535.8 431.5,534 C434.8,532.2 438.1,530 441.3,528 C444.6,526 447.7,523.8 451,522 C454.3,520.2 458.1,518.8 461.3,517.3 C464.5,515.8 466.9,514.1 470,513 C473.1,511.9 475.7,511.5 480,510.7 C484.3,509.9 491.2,507.9 496,508 C500.8,508.1 505.6,510.2 508.5,511 C511.4,511.8 511.7,515 513.7,512.7 C515.7,510.4 518.3,503.5 520.6,497.1 C522.9,490.8 525.2,481 527.5,474.6 C529.8,468.2 532.2,462.9 534.5,459 C536.8,455.1 539.2,451.8 541.4,451.2 C543.6,450.6 545.5,452.5 547.5,455.5 C549.5,458.5 551.4,465.1 553.6,469.4 C555.8,473.7 558.2,476.9 560.5,481.5 C562.8,486.1 565.1,491.9 567.4,497.1 C569.7,502.3 572.1,507.8 574.4,512.7 C576.7,517.6 579,522.3 581.3,526.6 C583.6,530.9 585.9,536.4 588.2,538.7 C590.5,541 590.9,540.3 595,540.5 C599.1,540.7 610,540.1 613,540" fill="none" stroke="#508cb9" stroke-width="3.3" stroke-linejoin="round"/>
<path d="M283.5,534 C284.8,533.5 288.6,532.4 291,530.9 C293.4,529.4 295.9,527.9 297.7,524.9 C299.5,521.9 300.5,518.6 301.7,512.8 C302.9,507 303.9,497.7 305,490.2 C306.1,482.7 307.2,475.1 308.3,467.6 C309.4,460.1 310.6,451.8 311.7,445 C312.8,438.2 313.8,433.5 315,426.9 C316.2,420.3 317.4,411.7 318.7,405.4 C319.9,399.2 321.3,393.7 322.5,389.6 C323.7,385.6 324.8,383 326,381.1 C327.2,379.3 328.3,378.3 329.5,378.3 C330.7,378.3 331.8,379.3 333,381.1 C334.2,383 335.3,385.6 336.5,389.6 C337.7,393.7 339.2,399.2 340.3,405.4 C341.4,411.7 341.9,420.3 343,426.9 C344.1,433.5 345.7,438.2 347,445 C348.3,451.8 349.8,460.1 351,467.6 C352.2,475.1 353.3,482.7 354.3,490.2 C355.3,497.7 355.8,506.8 357,512.8 C358.2,518.8 359.8,523.1 361.7,526.4 C363.6,529.6 366.4,530.9 368.3,532.3 C370.2,533.7 370.6,533.7 373,534.6 C375.4,535.5 379.4,536.4 382.6,537.5 C385.8,538.6 389.1,540.3 392.4,541.5 C395.7,542.7 398.9,545.3 402.2,544.8 C405.4,544.3 408.9,541.1 411.9,538.3 C414.9,535.5 417.4,531 420.1,528.1 C422.8,525.2 425.8,522.8 428.2,520.8 C430.6,518.8 432,517.4 434.7,516.1 C437.4,514.9 441.2,513.3 444.5,513.4 C447.8,513.6 451.5,516.5 454.3,517 C457.1,517.6 458.9,518 461.3,516.8 C463.8,515.6 466.3,512.5 469,510 C471.7,507.5 474.8,502.5 477.3,501.8 C479.8,501 481.8,503.9 484,505.5 C486.2,507.1 488.5,510.8 490.7,511.2 C492.9,511.5 494.6,509.3 497,507.8 C499.4,506.3 502.5,506.3 505,502.1 C507.5,497.9 509.6,489.7 511.9,482.5 C514.2,475.3 516.6,467.8 518.9,459 C521.2,450.1 523.5,437.7 525.8,429.6 C528.1,421.4 530.5,413.9 532.7,410 C534.9,406.1 536.6,405.4 538.8,406.1 C541,406.7 543.5,409.4 545.7,414 C547.9,418.6 549.9,426 551.8,433.5 C553.7,441 555.3,449.5 557,459 C558.7,468.4 560.5,480.9 562.2,490.4 C563.9,499.8 565.4,508.7 567.4,515.8 C569.4,522.9 571.8,529.1 574.4,533.2 C577,537.3 579.6,538.6 583,540.2 C586.4,541.8 591.7,542.2 595,542.8 C598.3,543.3 600,542.9 603,543.5 C606,544.1 611.3,546 613,546.5 L613,557.5 C611.3,557 606,555.1 603,554.5 C600,553.9 598.3,554.3 595,553.8 C591.7,553.2 586.4,552.8 583,551.2 C579.6,549.6 577,547.7 574.4,544.2 C571.8,540.7 569.4,536 567.4,530.4 C565.4,524.8 563.9,518.1 562.2,510.8 C560.5,503.5 558.7,493.9 557,486.6 C555.3,479.4 553.7,472.8 551.8,467.1 C549.9,461.3 547.9,455.5 545.7,452 C543.5,448.5 541,446.4 538.8,445.9 C536.6,445.4 534.9,446 532.7,449 C530.5,452 528.1,457.7 525.8,464 C523.5,470.3 521.2,479.9 518.9,486.6 C516.6,493.4 514.2,499.2 511.9,504.7 C509.6,510.3 507.5,516.6 505,519.9 C502.5,523.1 499.4,523.1 497,524.2 C494.6,525.4 492.9,527.1 490.7,526.8 C488.5,526.6 486.2,523.7 484,522.5 C481.8,521.3 479.8,519 477.3,519.6 C474.8,520.2 471.7,524 469,526 C466.3,527.9 463.8,530.3 461.3,531.2 C458.9,532.1 457.1,531.8 454.3,531.4 C451.5,530.9 447.8,528.7 444.5,528.6 C441.2,528.5 437.4,529.7 434.7,530.7 C432,531.6 430.6,532.7 428.2,534.2 C425.8,535.8 422.8,537.4 420.1,539.9 C417.4,542.4 414.9,546.6 411.9,549.3 C408.9,552 405.4,555.3 402.2,555.8 C398.9,556.3 395.7,553.7 392.4,552.5 C389.1,551.3 385.8,549.8 382.6,548.5 C379.4,547.2 375.4,545.6 373,544.6 C370.6,543.6 370.2,543.5 368.3,542.3 C366.4,541.1 363.6,540.2 361.7,537.6 C359.8,535.1 358.2,531.9 357,527.2 C355.8,522.6 355.3,515.6 354.3,509.8 C353.3,504 352.2,498.2 351,492.4 C349.8,486.6 348.3,480.2 347,475 C345.7,469.8 344.1,466.2 343,461.1 C341.9,456 341.4,449.3 340.3,444.6 C339.2,439.8 337.7,435.5 336.5,432.4 C335.3,429.3 334.2,427.3 333,425.9 C331.8,424.4 330.7,423.7 329.5,423.7 C328.3,423.7 327.2,424.4 326,425.9 C324.8,427.3 323.7,429.3 322.5,432.4 C321.3,435.5 319.9,439.8 318.7,444.6 C317.4,449.3 316.2,456 315,461.1 C313.8,466.2 312.8,469.8 311.7,475 C310.6,480.2 309.4,486.6 308.3,492.4 C307.2,498.2 306.1,504 305,509.8 C303.9,515.6 302.9,522.8 301.7,527.2 C300.5,531.7 299.5,534.2 297.7,536.5 C295.9,538.8 293.4,539.9 291,541.1 C288.6,542.4 284.8,543.5 283.5,544 Z" fill="rgb(246,110,10)" fill-opacity="0.55"/>
<path d="M283.5,539 C284.8,538.5 288.6,537.4 291,536 C293.4,534.6 295.9,533.4 297.7,530.7 C299.5,528 300.5,525.1 301.7,520 C302.9,514.9 303.9,506.7 305,500 C306.1,493.3 307.2,486.7 308.3,480 C309.4,473.3 310.6,466 311.7,460 C312.8,454 313.8,449.8 315,444 C316.2,438.2 317.4,430.5 318.7,425 C319.9,419.5 321.3,414.6 322.5,411 C323.7,407.4 324.8,405.2 326,403.5 C327.2,401.8 328.3,401 329.5,401 C330.7,401 331.8,401.8 333,403.5 C334.2,405.2 335.3,407.4 336.5,411 C337.7,414.6 339.2,419.5 340.3,425 C341.4,430.5 341.9,438.2 343,444 C344.1,449.8 345.7,454 347,460 C348.3,466 349.8,473.3 351,480 C352.2,486.7 353.3,493.3 354.3,500 C355.3,506.7 355.8,514.7 357,520 C358.2,525.3 359.8,529.1 361.7,532 C363.6,534.9 366.4,536 368.3,537.3 C370.2,538.6 370.6,538.6 373,539.6 C375.4,540.6 379.4,541.8 382.6,543 C385.8,544.2 389.1,545.8 392.4,547 C395.7,548.2 398.9,550.8 402.2,550.3 C405.4,549.8 408.9,546.5 411.9,543.8 C414.9,541.1 417.4,536.7 420.1,534 C422.8,531.3 425.8,529.3 428.2,527.5 C430.6,525.7 432,524.5 434.7,523.4 C437.4,522.3 441.2,520.9 444.5,521 C447.8,521.1 451.5,523.7 454.3,524.2 C457.1,524.7 458.9,525 461.3,524 C463.8,523 466.3,520.2 469,518 C471.7,515.8 474.8,511.4 477.3,510.7 C479.8,510 481.8,512.6 484,514 C486.2,515.4 488.5,518.7 490.7,519 C492.9,519.3 494.6,517.3 497,516 C499.4,514.7 502.5,514.7 505,511 C507.5,507.3 509.6,500 511.9,493.6 C514.2,487.2 516.6,480.6 518.9,472.8 C521.2,465 523.5,454 525.8,446.8 C528.1,439.6 530.5,433 532.7,429.5 C534.9,426 536.6,425.4 538.8,426 C541,426.6 543.5,428.9 545.7,433 C547.9,437.1 549.9,443.7 551.8,450.3 C553.7,456.9 555.3,464.4 557,472.8 C558.7,481.2 560.5,492.2 562.2,500.6 C563.9,509 565.4,516.8 567.4,523.1 C569.4,529.5 571.8,534.9 574.4,538.7 C577,542.5 579.6,544.1 583,545.7 C586.4,547.3 591.7,547.8 595,548.3 C598.3,548.8 600,548.4 603,549 C606,549.6 611.3,551.5 613,552" fill="none" stroke="#ef6e1e" stroke-width="3.3" stroke-linejoin="round"/>
<line x1="457.2" y1="384.6" x2="514.3" y2="384.1" stroke="#5b96c6" stroke-width="2" />
<line x1="465.8" y1="393.5" x2="551.6" y2="393.5" stroke="#ea8a3e" stroke-width="2" />
<line x1="283.2" y1="353.7" x2="283.2" y2="583" stroke="#000" stroke-width="2.2" />
<line x1="282.1" y1="582" x2="613" y2="582" stroke="#000" stroke-width="2.2" />
<line x1="283.2" y1="369.2" x2="286.2" y2="369.2" stroke="#000" stroke-width="1" />
<text x="275.6" y="375" font-size="16.5" text-anchor="end" fill="#000" font-weight="normal" >0.2</text>
<line x1="283.2" y1="457.6" x2="286.2" y2="457.6" stroke="#000" stroke-width="1" />
<text x="275.6" y="463.4" font-size="16.5" text-anchor="end" fill="#000" font-weight="normal" >0.1</text>
<line x1="283.2" y1="546" x2="286.2" y2="546" stroke="#000" stroke-width="1" />
<text x="275.6" y="551.8" font-size="16.5" text-anchor="end" fill="#000" font-weight="normal" >0</text>
<line x1="283.2" y1="413.4" x2="286.2" y2="413.4" stroke="#000" stroke-width="1" />
<line x1="283.2" y1="501.8" x2="286.2" y2="501.8" stroke="#000" stroke-width="1" />
<text x="313.6" y="601.2" font-size="16.5" text-anchor="middle" fill="#000" font-weight="normal" >0</text>
<text x="376.6" y="601.2" font-size="16.5" text-anchor="middle" fill="#000" font-weight="normal" >1</text>
<text x="439.6" y="601.2" font-size="16.5" text-anchor="middle" fill="#000" font-weight="normal" >2</text>
<text x="502.6" y="601.2" font-size="16.5" text-anchor="middle" fill="#000" font-weight="normal" >3</text>
<text x="565.6" y="601.2" font-size="16.5" text-anchor="middle" fill="#000" font-weight="normal" >4</text>
<text x="448.1" y="620.5" font-size="17" text-anchor="middle" fill="#000" font-weight="normal" >Time (s)</text>
<text x="0" y="0" font-size="16.8" text-anchor="middle" dominant-baseline="central" fill="#000" transform="translate(238,467.4) rotate(-90)" >ITPC</text>
<rect x="364.7" y="568.9" width="13.8" height="13.1" fill="#000"/>
<text x="371.6" y="580" font-size="12.5" text-anchor="middle" fill="#fff" font-weight="normal" >T</text>
<rect x="396.1" y="568.9" width="13.8" height="13.1" fill="#000"/>
<text x="403" y="580" font-size="12.5" text-anchor="middle" fill="#fff" font-weight="normal" >T</text>
<rect x="427.5" y="568.9" width="13.8" height="13.1" fill="#000"/>
<text x="434.4" y="580" font-size="12.5" text-anchor="middle" fill="#fff" font-weight="normal" >T</text>
<rect x="458.9" y="568.9" width="13.8" height="13.1" fill="#000"/>
<text x="465.8" y="580" font-size="12.5" text-anchor="middle" fill="#fff" font-weight="normal" >T</text>
<rect x="490.3" y="568.9" width="13.8" height="13.1" fill="#000"/>
<text x="497.2" y="580" font-size="12.5" text-anchor="middle" fill="#fff" font-weight="normal" >T</text>
<line x1="476.6" y1="859.8" x2="657.6" y2="713.6" stroke="#737373" stroke-width="1.9" stroke-dasharray="5.5,3.5"/>
<circle cx="608" cy="678" r="3.5" fill="none" stroke="#ea6c22" stroke-width="2.4"/>
<circle cx="561" cy="703.2" r="3.5" fill="none" stroke="#ea6c22" stroke-width="2.4"/>
<circle cx="588.2" cy="730.4" r="3.5" fill="none" stroke="#ea6c22" stroke-width="2.4"/>
<circle cx="592.1" cy="756.3" r="3.5" fill="none" stroke="#ea6c22" stroke-width="2.4"/>
<circle cx="636" cy="765.2" r="3.5" fill="none" stroke="#ea6c22" stroke-width="2.4"/>
<circle cx="565.6" cy="744.7" r="3.5" fill="none" stroke="#ea6c22" stroke-width="2.4"/>
<circle cx="574" cy="773.6" r="3.5" fill="none" stroke="#ea6c22" stroke-width="2.4"/>
<circle cx="570.7" cy="780" r="3.5" fill="none" stroke="#ea6c22" stroke-width="2.4"/>
<circle cx="568.4" cy="785.4" r="3.5" fill="none" stroke="#ea6c22" stroke-width="2.4"/>
<circle cx="532.2" cy="783.3" r="3.5" fill="none" stroke="#ea6c22" stroke-width="2.4"/>
<circle cx="583.2" cy="789.6" r="3.5" fill="none" stroke="#ea6c22" stroke-width="2.4"/>
<circle cx="530.5" cy="802.4" r="3.5" fill="none" stroke="#ea6c22" stroke-width="2.4"/>
<circle cx="525.6" cy="804.2" r="3.5" fill="none" stroke="#ea6c22" stroke-width="2.4"/>
<circle cx="557" cy="806" r="3.5" fill="none" stroke="#ea6c22" stroke-width="2.4"/>
<circle cx="502.1" cy="813.5" r="3.5" fill="none" stroke="#ea6c22" stroke-width="2.4"/>
<circle cx="576" cy="839.5" r="3.5" fill="none" stroke="#ea6c22" stroke-width="2.4"/>
<circle cx="544.2" cy="871.2" r="3.5" fill="none" stroke="#ea6c22" stroke-width="2.4"/>
<circle cx="545.6" cy="841.6" r="3.5" fill="none" stroke="#ea6c22" stroke-width="2.4"/>
<circle cx="548.3" cy="844.2" r="3.5" fill="none" stroke="#ea6c22" stroke-width="2.4"/>
<circle cx="547" cy="845.5" r="3.5" fill="none" stroke="#ea6c22" stroke-width="2.4"/>
<circle cx="547" cy="843.5" r="3.6" fill="#f07022"/>
<circle cx="565.6" cy="744.7" r="3.5" fill="none" stroke="#4f8cc0" stroke-width="2.4"/>
<circle cx="573.1" cy="757.7" r="3.5" fill="none" stroke="#4f8cc0" stroke-width="2.4"/>
<circle cx="571" cy="762.5" r="3.5" fill="none" stroke="#4f8cc0" stroke-width="2.4"/>
<circle cx="568.4" cy="767.2" r="3.5" fill="none" stroke="#4f8cc0" stroke-width="2.4"/>
<circle cx="580" cy="771.2" r="3.5" fill="none" stroke="#4f8cc0" stroke-width="2.4"/>
<circle cx="538.3" cy="781.9" r="3.5" fill="none" stroke="#4f8cc0" stroke-width="2.4"/>
<circle cx="543.6" cy="784.7" r="3.5" fill="none" stroke="#4f8cc0" stroke-width="2.4"/>
<circle cx="541.7" cy="790.6" r="3.5" fill="none" stroke="#4f8cc0" stroke-width="2.4"/>
<circle cx="548.7" cy="797" r="3.5" fill="none" stroke="#4f8cc0" stroke-width="2.4"/>
<circle cx="594.9" cy="794.4" r="3.5" fill="none" stroke="#4f8cc0" stroke-width="2.4"/>
<circle cx="563.8" cy="807.4" r="3.5" fill="none" stroke="#4f8cc0" stroke-width="2.4"/>
<circle cx="543" cy="813" r="3.5" fill="none" stroke="#4f8cc0" stroke-width="2.4"/>
<circle cx="512.6" cy="821.6" r="3.5" fill="none" stroke="#4f8cc0" stroke-width="2.4"/>
<circle cx="531.2" cy="821.5" r="3.5" fill="none" stroke="#4f8cc0" stroke-width="2.4"/>
<circle cx="531.2" cy="827.3" r="3.5" fill="none" stroke="#4f8cc0" stroke-width="2.4"/>
<circle cx="538.4" cy="833.5" r="3.5" fill="none" stroke="#4f8cc0" stroke-width="2.4"/>
<circle cx="543.8" cy="833" r="3.5" fill="none" stroke="#4f8cc0" stroke-width="2.4"/>
<circle cx="516.7" cy="840.7" r="3.5" fill="none" stroke="#4f8cc0" stroke-width="2.4"/>
<circle cx="540" cy="846.7" r="3.5" fill="none" stroke="#4f8cc0" stroke-width="2.4"/>
<circle cx="561" cy="867.3" r="3.5" fill="none" stroke="#4f8cc0" stroke-width="2.4"/>
<circle cx="532.2" cy="783.3" r="3.5" fill="none" stroke="#ea6c22" stroke-width="2.4"/>
<circle cx="574" cy="773.6" r="3.5" fill="none" stroke="#ea6c22" stroke-width="2.4"/>
<circle cx="570.7" cy="780" r="3.5" fill="none" stroke="#ea6c22" stroke-width="2.4"/>
<circle cx="568.4" cy="785.4" r="3.5" fill="none" stroke="#ea6c22" stroke-width="2.4"/>
<line x1="477" y1="666.4" x2="477" y2="877.5" stroke="#000" stroke-width="2.2" />
<line x1="475.9" y1="876.5" x2="660" y2="876.5" stroke="#000" stroke-width="2.2" />
<line x1="477" y1="705.5" x2="480" y2="705.5" stroke="#000" stroke-width="1" />
<text x="469.5" y="711.2" font-size="16" text-anchor="end" fill="#000" font-weight="normal" >2</text>
<line x1="477" y1="747.1" x2="480" y2="747.1" stroke="#000" stroke-width="1" />
<text x="469.5" y="752.8" font-size="16" text-anchor="end" fill="#000" font-weight="normal" >1.5</text>
<line x1="477" y1="788.7" x2="480" y2="788.7" stroke="#000" stroke-width="1" />
<text x="469.5" y="794.4" font-size="16" text-anchor="end" fill="#000" font-weight="normal" >1</text>
<line x1="477" y1="830.3" x2="480" y2="830.3" stroke="#000" stroke-width="1" />
<text x="469.5" y="836" font-size="16" text-anchor="end" fill="#000" font-weight="normal" >0.5</text>
<line x1="477" y1="871.9" x2="480" y2="871.9" stroke="#000" stroke-width="1" />
<text x="469.5" y="877.6" font-size="16" text-anchor="end" fill="#000" font-weight="normal" >0</text>
<line x1="477.8" y1="876.5" x2="477.8" y2="873.5" stroke="#000" stroke-width="1" />
<text x="477.8" y="895.6" font-size="16.5" text-anchor="middle" fill="#000" font-weight="normal" >0.05</text>
<line x1="523" y1="876.5" x2="523" y2="873.5" stroke="#000" stroke-width="1" />
<text x="523" y="895.6" font-size="16.5" text-anchor="middle" fill="#000" font-weight="normal" >0.10</text>
<line x1="568.3" y1="876.5" x2="568.3" y2="873.5" stroke="#000" stroke-width="1" />
<text x="568.3" y="895.6" font-size="16.5" text-anchor="middle" fill="#000" font-weight="normal" >0.15</text>
<line x1="613.6" y1="876.5" x2="613.6" y2="873.5" stroke="#000" stroke-width="1" />
<text x="613.6" y="895.6" font-size="16.5" text-anchor="middle" fill="#000" font-weight="normal" >0.20</text>
<line x1="658.8" y1="876.5" x2="658.8" y2="873.5" stroke="#000" stroke-width="1" />
<text x="658.8" y="895.6" font-size="16.5" text-anchor="middle" fill="#000" font-weight="normal" >0.25</text>
<text x="567.4" y="917.6" font-size="17" text-anchor="middle" fill="#000" font-weight="normal" >ITPC ~2Hz</text>
<text x="0" y="0" font-size="16" text-anchor="middle" dominant-baseline="central" fill="#000" transform="translate(432,766) rotate(-90)" >BE</text>
<text x="486.6" y="668.8" font-size="14.5" fill="#f07022">RefRN: <tspan font-style="italic">r</tspan>=0.53 (*)</text>
<text x="486.4" y="684.7" font-size="14.5" fill="#5592c2">RN: <tspan font-style="italic">r</tspan>=0.54 (*)</text>
</svg>
</body></html>
